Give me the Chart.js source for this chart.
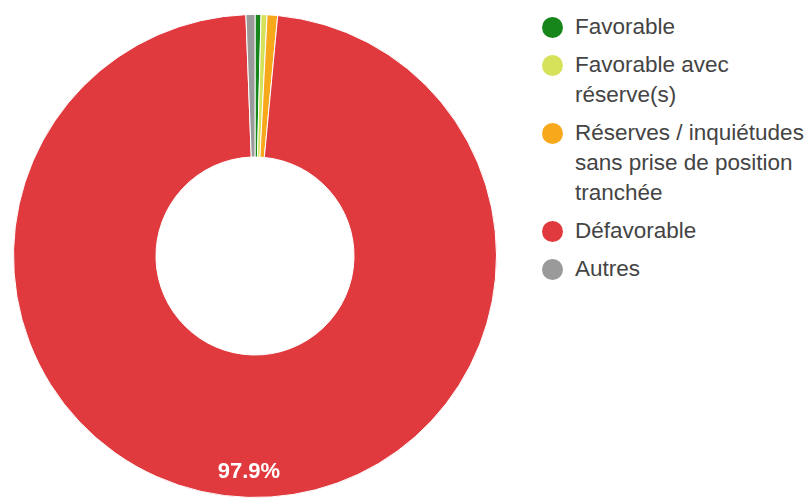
<!DOCTYPE html>
<html lang="fr">
<head>
<meta charset="utf-8">
<title>Avis</title>
<script src="https://cdn.jsdelivr.net/npm/chart.js@4.4.1/dist/chart.umd.min.js"></script>
<style>
  html, body { margin: 0; padding: 0; background: #fff; }
  #wrap { position: relative; width: 810px; height: 500px; overflow: hidden; }
  #chart-box { position: absolute; left: 0; top: 0; width: 510px; height: 500px; }
  #legend {
    position: absolute; left: 542px; top: 12px; margin: 0; padding: 0; list-style: none;
    font-family: Arial, "Liberation Sans", sans-serif; font-size: 22.5px; color: #444;
  }
  #legend li { display: flex; align-items: flex-start; margin-bottom: 8px; }
  #legend .dot { width: 21px; height: 21px; border-radius: 50%; margin-top: 4.5px; margin-right: 12px; flex: none; }
  #legend .txt { line-height: 30px; white-space: nowrap; }
</style>
</head>
<body>
<div id="wrap">
  <div id="chart-box"><canvas id="avisChart"></canvas></div>
  <ul id="legend"></ul>
</div>
<script>
const labels = ['Favorable', 'Favorable avec réserve(s)', 'Réserves / inquiétudes sans prise de position tranchée', 'Défavorable', 'Autres'];
const legendLines = [
  ['Favorable'],
  ['Favorable avec', 'réserve(s)'],
  ['Réserves / inquiétudes', 'sans prise de position', 'tranchée'],
  ['Défavorable'],
  ['Autres']
];
const values = [0.4, 0.4, 0.7, 97.9, 0.6];
const colors = ['#17861a', '#d6e35a', '#f7a81b', '#e13a3e', '#9a9a9a'];

// étiquette % dans les grosses parts, comme Google Charts
const sliceLabels = {
  id: 'sliceLabels',
  afterDatasetsDraw(chart) {
    const ctx = chart.ctx;
    const meta = chart.getDatasetMeta(0);
    const total = values.reduce((a, b) => a + b, 0);
    ctx.save();
    ctx.font = 'bold 22px Arial, "Liberation Sans", sans-serif';
    ctx.fillStyle = '#ffffff';
    ctx.textAlign = 'center';
    ctx.textBaseline = 'middle';
    meta.data.forEach((arc, i) => {
      const pct = values[i] / total * 100;
      if (pct < 5) return;
      const p = arc.getProps(['x', 'y', 'startAngle', 'endAngle', 'innerRadius', 'outerRadius'], true);
      const mid = (p.startAngle + p.endAngle) / 2;
      const r = p.innerRadius + (p.outerRadius - p.innerRadius) * 0.82;
      ctx.fillText(pct.toFixed(1) + '%', p.x + Math.cos(mid) * r, p.y + Math.sin(mid) * r);
    });
    ctx.restore();
  }
};

function renderLegend() {
  const list = document.getElementById('legend');
  list.innerHTML = legendLines.map((lines, i) => `
    <li>
      <span class="dot" style="background:${colors[i]}"></span>
      <span class="txt">${lines.join('<br>')}</span>
    </li>
  `).join('');
}

function renderChart() {
  const canvas = document.getElementById('avisChart');
  new Chart(canvas.getContext('2d'), {
    type: 'doughnut',
    data: {
      labels: labels,
      datasets: [{
        data: values,
        backgroundColor: colors,
        borderColor: '#ffffff',
        borderWidth: 1,
        hoverOffset: 0
      }]
    },
    options: {
      responsive: true,
      maintainAspectRatio: false,
      animation: false,
      cutout: '41%',
      layout: { padding: { top: 14, bottom: 2, left: 0, right: 0 } },
      plugins: {
        legend: { display: false },
        tooltip: { enabled: false }
      }
    },
    plugins: [sliceLabels]
  });
}

document.addEventListener('DOMContentLoaded', () => {
  renderLegend();
  renderChart();
});
</script>
</body>
</html>
